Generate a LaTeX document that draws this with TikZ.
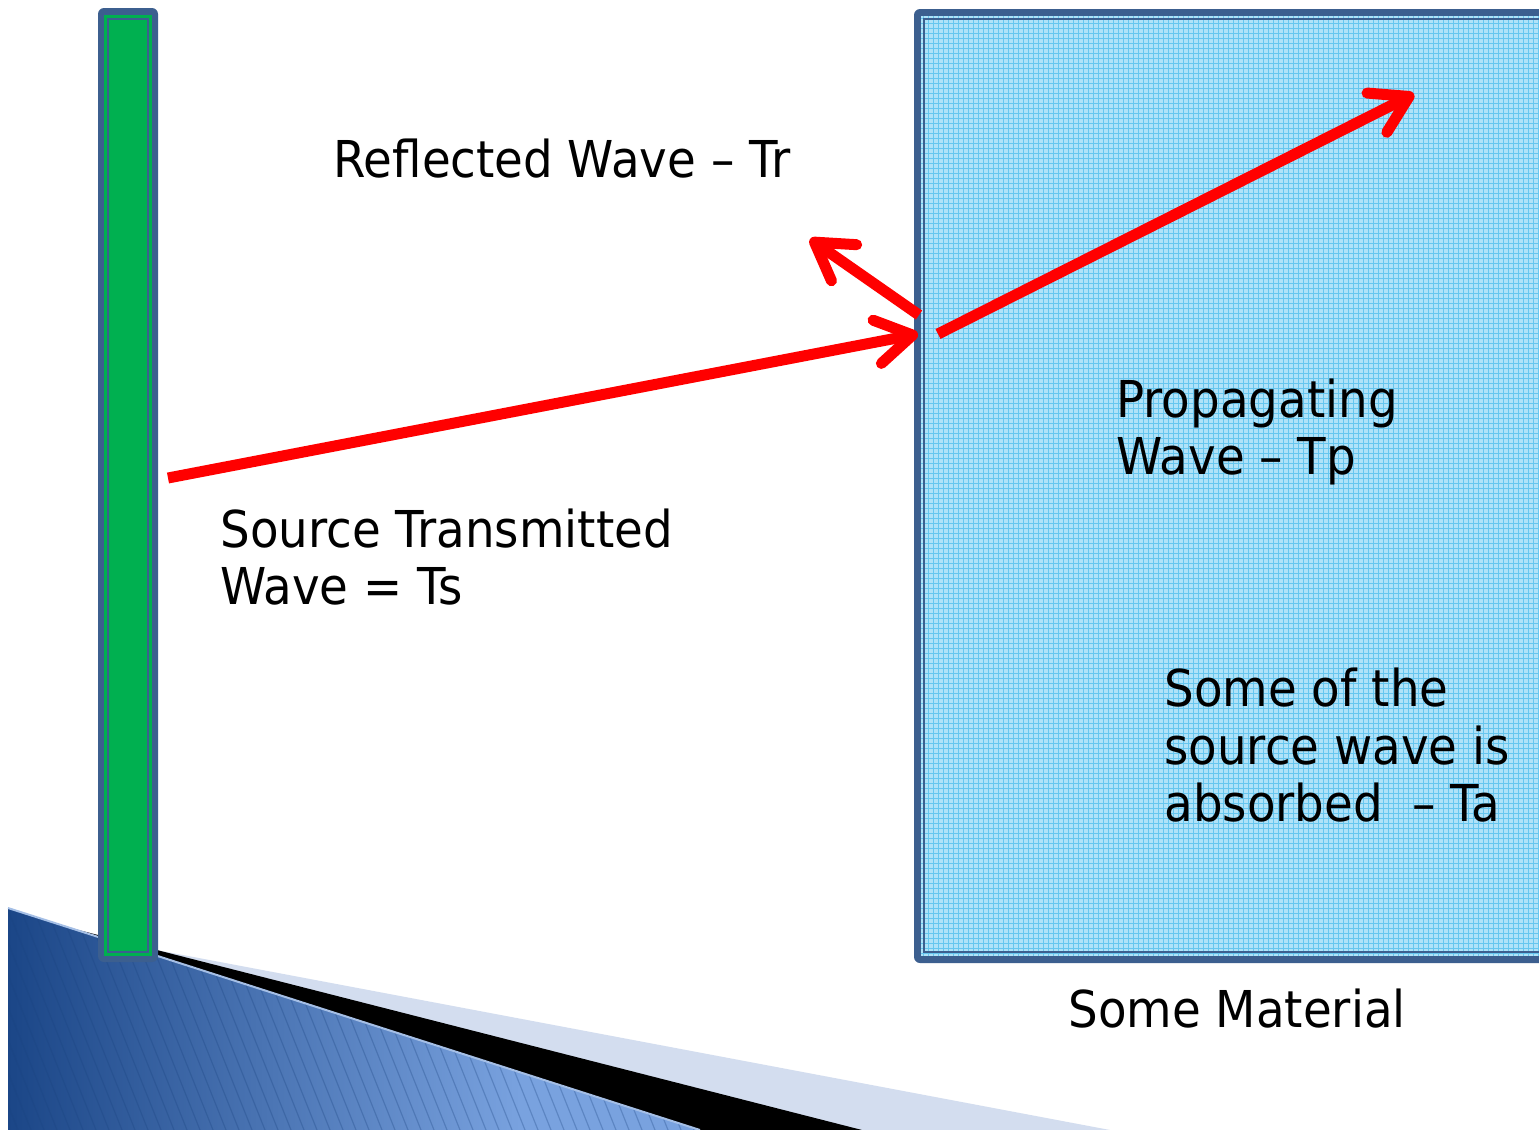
\documentclass[tikz,border=0pt]{standalone}
\usepackage{fontspec}
\setmainfont{DejaVu Sans}[FakeStretch=0.92]
\usetikzlibrary{arrows.meta}
\definecolor{frameblue}{HTML}{3C5F8F}
\definecolor{barGreen}{HTML}{00B050}
\definecolor{matfill}{HTML}{B0E2F8}
\definecolor{matgrid}{HTML}{66C6EF}
\definecolor{waveRed}{HTML}{FF0000}
\definecolor{lightband}{HTML}{D3DDEF}
\definecolor{wedgeDark}{HTML}{1B4687}
\definecolor{wedgeLight}{HTML}{79A2DF}
\definecolor{wedgeRight}{HTML}{2D5DA8}
\definecolor{wedgeHatch}{HTML}{1A4380}
\definecolor{wedgeEdge}{HTML}{A5BFE6}
\pgfdeclarehorizontalshading{wedgeShade}{100bp}{color(0bp)=(wedgeDark); color(25bp)=(wedgeDark); color(62bp)=(wedgeLight); color(80bp)=(wedgeLight); color(100bp)=(wedgeRight)}
\begin{document}
\begin{tikzpicture}[x=0.5pt,y=-0.5pt,
  txt/.style={inner sep=0pt, anchor=base west, font=\fontsize{25.4pt}{30pt}\selectfont, text=black},
  wave/.style={draw=waveRed, line width=5.5pt, -{Straight Barb[length=18pt,width=22pt,round]}},
]
\clip (0,0) rectangle (1539,1130);
\fill[white] (0,0) rectangle (1539,1130);

% bottom-left decoration
\fill[lightband] (8,922) -- (1110,1130) -- (8,1130) -- cycle;
\fill[black] (8,912) -- (862,1130) -- (8,1130) -- cycle;
\begin{scope}
  \clip (8,908) -- (700,1130) -- (8,1130) -- cycle;
  \shade[shading=wedgeShade] (8,900) rectangle (700,1130);
  \foreach \i in {-100,-87,...,700}
    \draw[wedgeHatch, opacity=.3, line width=0.6pt] (\i,900) -- ++(92,230);
\end{scope}
\draw[wedgeEdge, line width=1pt] (8,908) -- (700,1130);

% source bar
\fill[frameblue, rounded corners=3pt] (98,8) rectangle (158,962);
\fill[barGreen] (104,15) rectangle (152,956);
\draw[frameblue, line width=0.8pt] (108,19) rectangle (148,952);

% material block
\fill[frameblue, rounded corners=3pt] (914,9) rectangle (1600,963);
\fill[matfill] (921,16) rectangle (1600,956);
\begin{scope}
  \clip (921,16) rectangle (1539,956);
  \foreach \x in {923,928,...,1539}
    \draw[matgrid, line width=0.5pt] (\x,16) -- (\x,956);
  \foreach \y in {18,23,...,956}
    \draw[matgrid, line width=0.5pt] (921,\y) -- (1539,\y);
\end{scope}
\draw[frameblue, line width=0.6pt] (924,19) rectangle (1600,952);

% labels
\node[txt] (reflLbl) at (333,177) {Reflected Wave – Tr};
\node[txt] (srcLblA) at (220,547) {Source Transmitted};
\node[txt] (srcLblB) at (220,604) {Wave = Ts};
\node[txt] (propLblA) at (1116,417) {Propagating};
\node[txt] (propLblB) at (1116,474) {Wave – Tp};
\node[txt] (absLblA) at (1164,706) {Some of the};
\node[txt] (absLblB) at (1164,764) {source wave is};
\node[txt] (absLblC) at (1164,821) {absorbed\ \ – Ta};
\node[txt] (matLbl) at (1068,1027) {Some Material};

% waves
\coordinate (srcStart) at (168,478);
\coordinate (hitPt) at (918,334);
\coordinate (reflStart) at (919,315);
\coordinate (reflTip) at (810,239);
\coordinate (propStart) at (938,334);
\coordinate (propTip) at (1414,94);
\draw[wave] (srcStart) -- (hitPt);
\draw[wave] (reflStart) -- (reflTip);
\draw[wave] (propStart) -- (propTip);
\end{tikzpicture}
\end{document}
